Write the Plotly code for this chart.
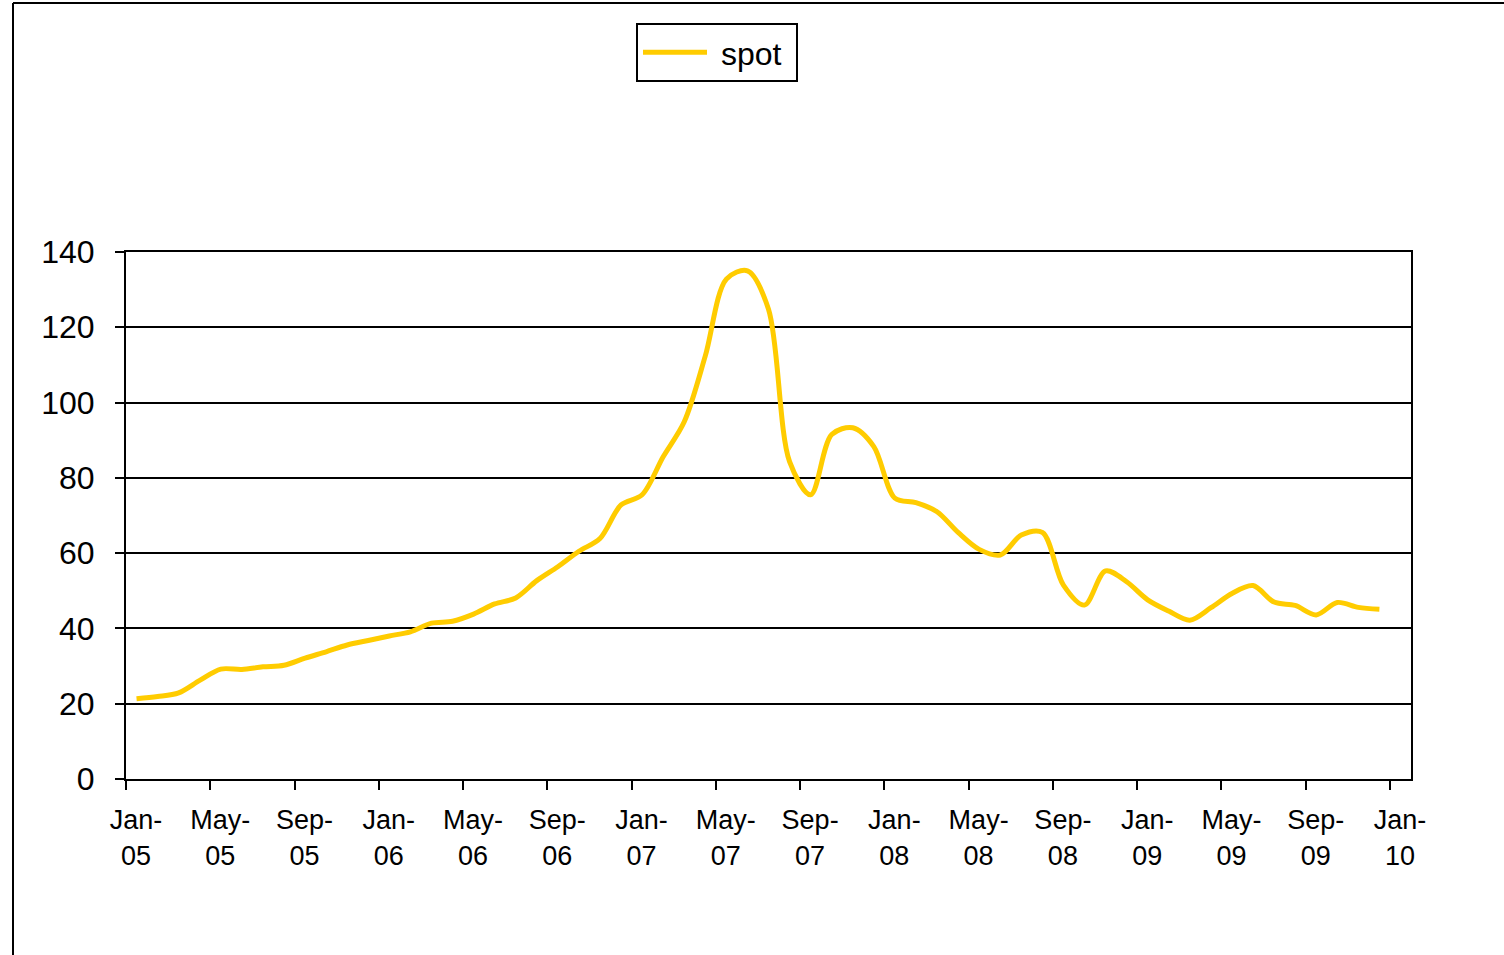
import plotly.graph_objects as go

# Monthly spot price, Jan-05 .. Dec-09
months = [f"{m}-{y:02d}" for y in range(5, 10)
          for m in ["Jan", "Feb", "Mar", "Apr", "May", "Jun",
                    "Jul", "Aug", "Sep", "Oct", "Nov", "Dec"]]
spot = [
    21.3, 21.9, 22.9, 26.2, 29.2, 29.1, 29.8, 30.2, 32.1, 33.8, 35.6, 36.8,
    38.0, 39.1, 41.4, 41.9, 43.8, 46.5, 48.1, 52.7, 56.4, 60.5, 63.9, 72.8,
    75.5, 85.6, 94.9, 112.4, 132.8, 135.0, 124.8, 84.3, 75.5, 91.5, 93.3, 88.3,
    74.6, 73.4, 71.0, 65.5, 61.0, 59.5, 64.8, 65.5, 51.5, 46.2, 55.3, 52.4,
    47.6, 44.6, 42.2, 45.5, 49.3, 51.4, 47.0, 46.1, 43.6, 46.9, 45.6, 45.1,
]
# category axis runs one month past the data (Jan-10)
axis_months = months + ["Jan-10"]
tick_labels = [m.replace("-", "-<br>") for m in axis_months[::4]]
y_ticks = [0, 20, 40, 60, 80, 100, 120, 140]

x_idx = list(range(len(months)))
tick_pos = [i - 0.5 for i in range(0, len(axis_months), 4)]

W, H = 1504, 955
L, R, T, B = 126, 93, 252, 176
pw, ph = W - L - R, H - T - B

fig = go.Figure()
fig.add_trace(go.Scatter(
    x=x_idx, y=spot, name="&nbsp;spot&nbsp;", mode="lines",
    line=dict(color="#FFCC00", width=5, shape="spline", smoothing=0.9),
))

fig.update_layout(
    width=W, height=H,
    margin=dict(l=L, r=R, t=T, b=B),
    paper_bgcolor="white", plot_bgcolor="white",
    font=dict(family="Liberation Sans, Arial, sans-serif", color="black"),
    showlegend=True,
    legend=dict(
        x=(636 - L) / pw, y=(H - B - 23) / ph, xanchor="left", yanchor="top",
        bordercolor="black", borderwidth=2, bgcolor="white",
        font=dict(size=32), itemwidth=64,
    ),
    xaxis=dict(
        range=[-0.5, len(axis_months) - 0.5],
        tickmode="array", tickvals=tick_pos, ticktext=tick_labels,
        ticklabelshift=10, ticklabelstandoff=7,
        ticks="outside", ticklen=9, tickwidth=2, tickcolor="black",
        tickfont=dict(size=27),
        showline=True, linecolor="black", linewidth=2, mirror=True,
        showgrid=False, zeroline=False,
    ),
    yaxis=dict(
        range=[0, 140], tickmode="array", tickvals=y_ticks,
        ticks="outside", ticklen=9, tickwidth=2, tickcolor="black",
        tickfont=dict(size=32), ticklabelstandoff=14,
        showline=True, linecolor="black", linewidth=2, mirror=True,
        showgrid=True, gridcolor="black", gridwidth=2, zeroline=False,
    ),
)

# outer chart frame (left and top edges visible)
fx0 = (13 - L) / pw
fy0 = (H - B - 3) / ph
fig.add_shape(type="line", xref="paper", yref="paper",
              x0=fx0, x1=fx0, y0=fy0, y1=-0.4,
              line=dict(color="black", width=2))
fig.add_shape(type="line", xref="paper", yref="paper",
              x0=fx0, x1=1.1, y0=fy0, y1=fy0,
              line=dict(color="black", width=2))

fig.write_html("out.html")
